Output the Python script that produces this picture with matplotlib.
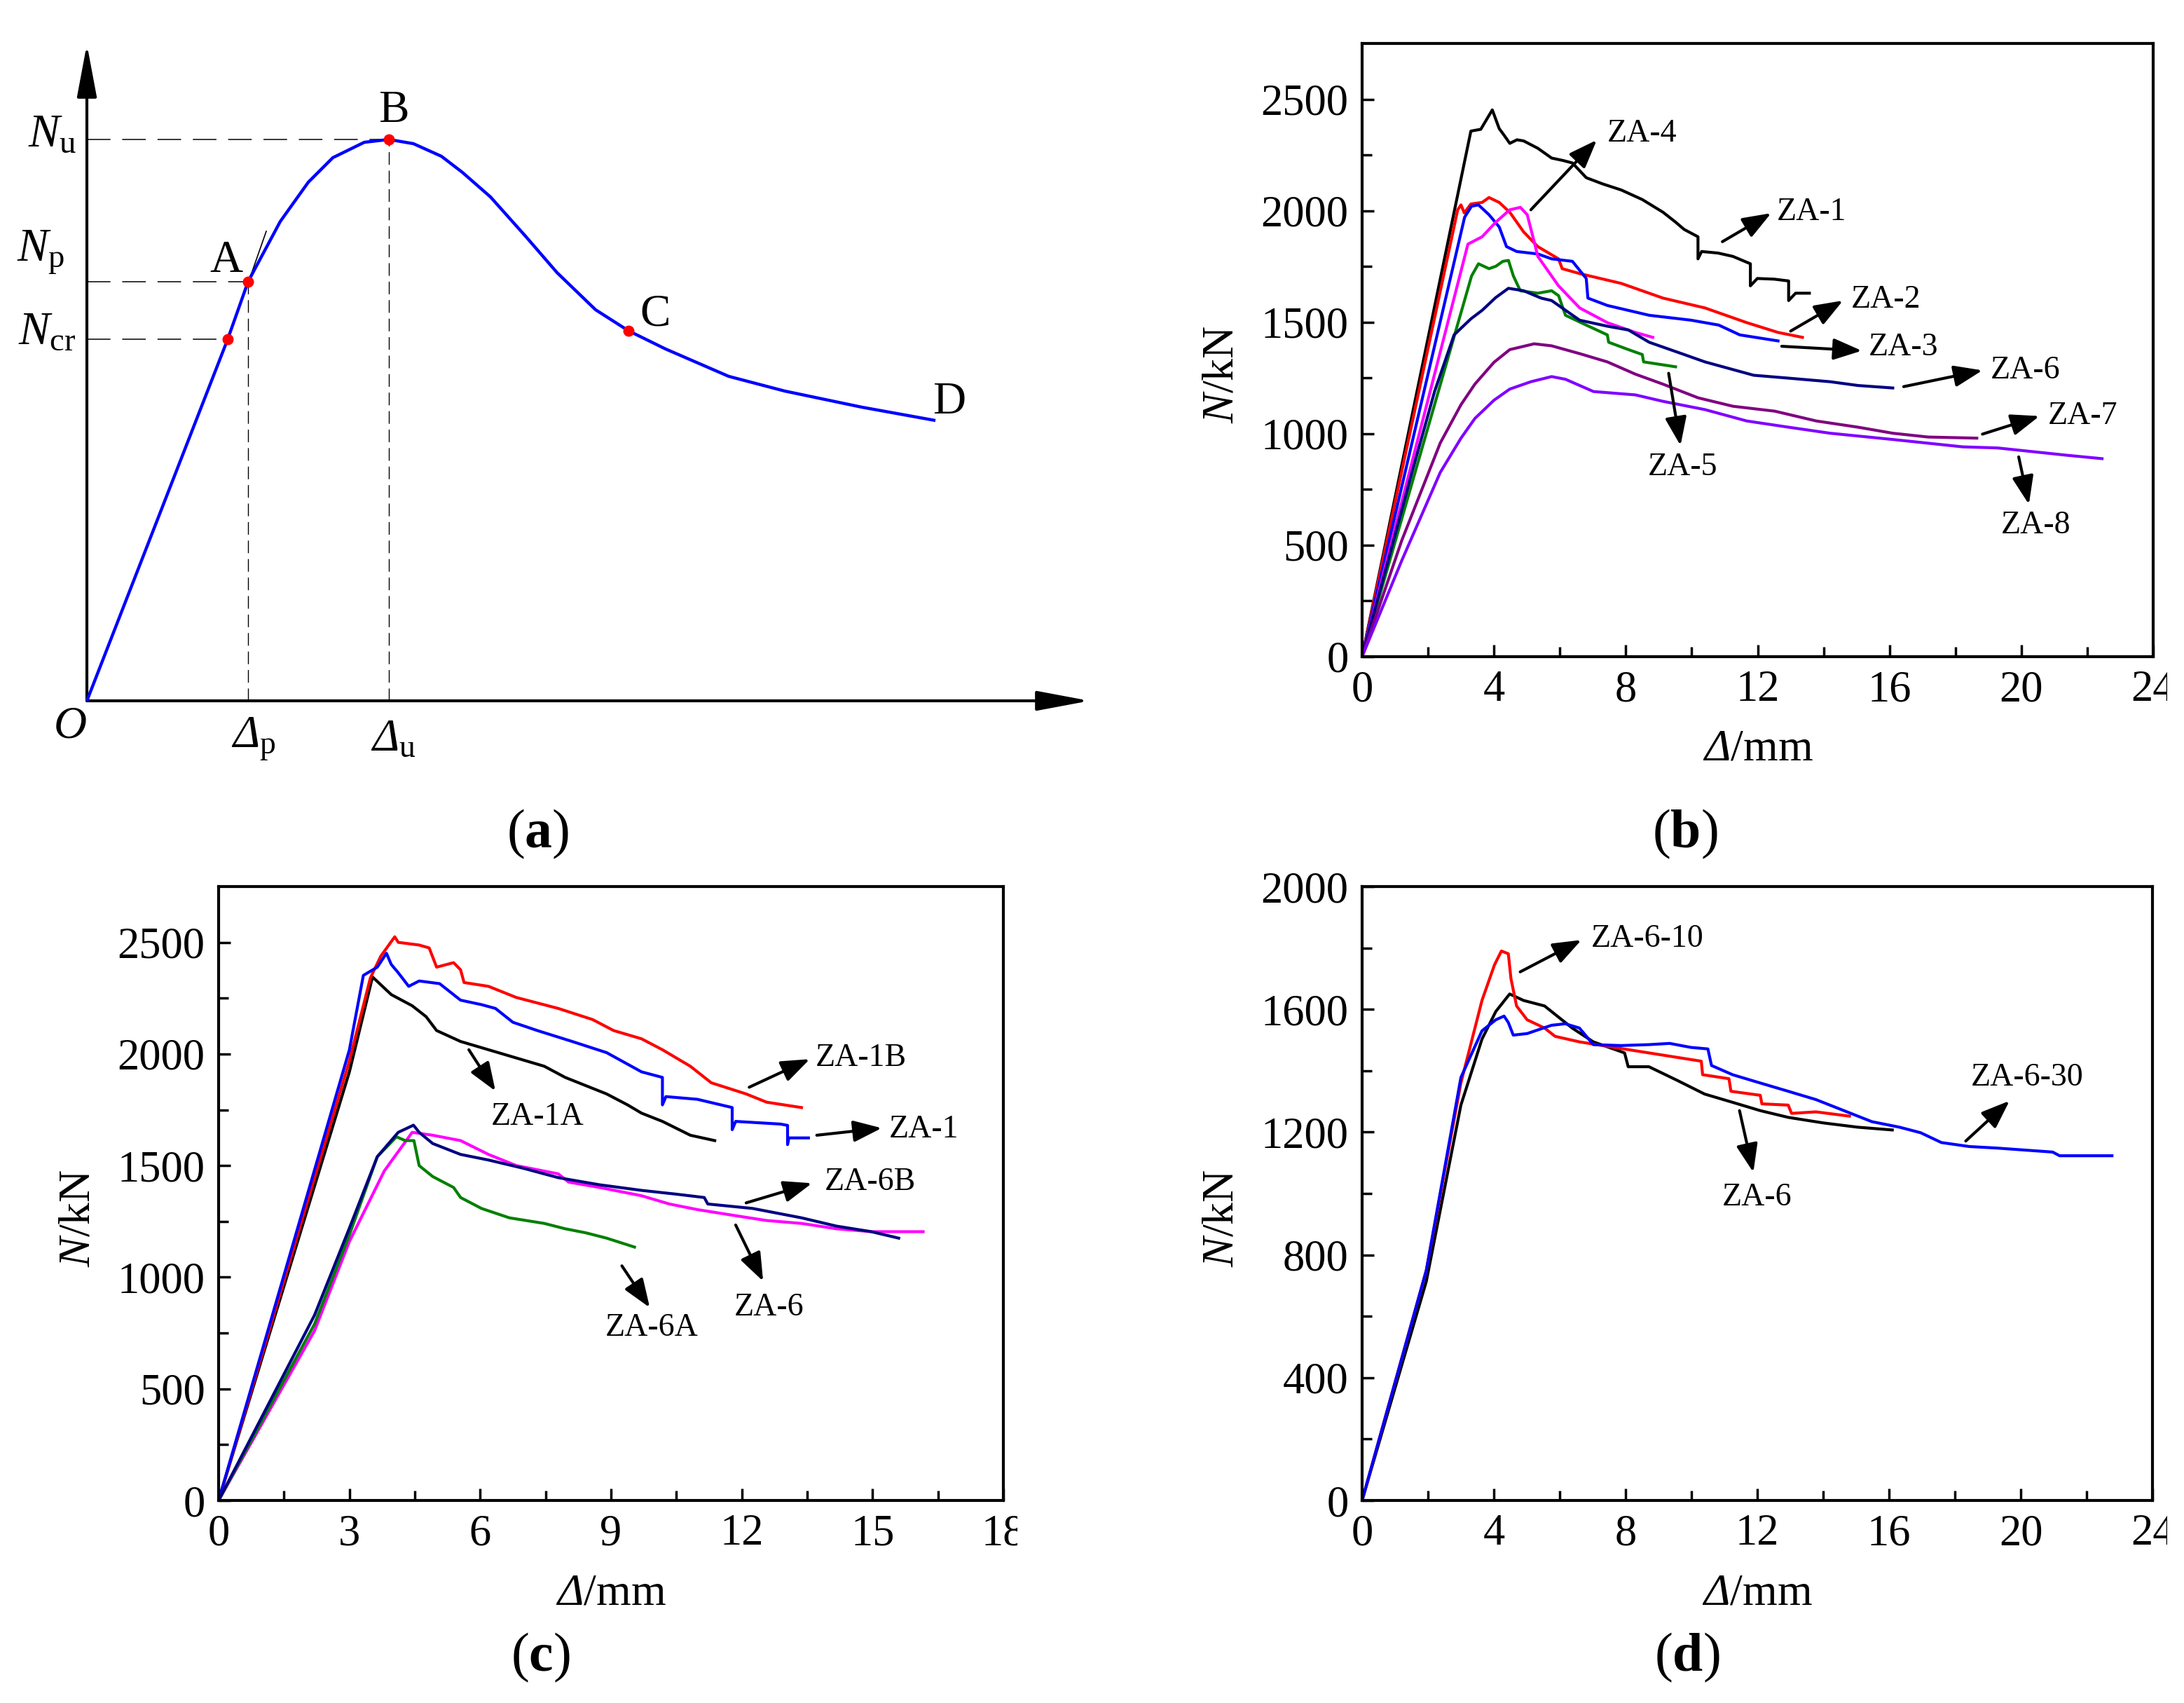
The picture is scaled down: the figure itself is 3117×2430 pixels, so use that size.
import numpy as np
import matplotlib
matplotlib.use('Agg')
import matplotlib.pyplot as plt
from matplotlib.ticker import FixedLocator
from matplotlib.transforms import Bbox, TransformedBbox

plt.rcParams['font.family'] = 'serif'
plt.rcParams['font.serif'] = ['Liberation Serif', 'DejaVu Serif']
plt.rcParams['mathtext.fontset'] = 'custom'
plt.rcParams['mathtext.rm'] = 'Liberation Serif'
plt.rcParams['mathtext.it'] = 'Liberation Serif:italic'
plt.rcParams['mathtext.sf'] = 'Liberation Serif:italic'
plt.rcParams['mathtext.bf'] = 'Liberation Serif:bold'

W, H = 3117, 2430

# ---------------- (a) schematic curve ----------------
sch_x = [0, 2.01, 2.30, 2.76, 3.16, 3.51, 3.96, 4.31, 4.66, 5.06, 5.36, 5.76, 6.26, 6.71, 7.26, 7.73,
         8.26, 9.16, 9.96, 11.06, 12.11]
sch_y = [0, 5.16, 5.98, 6.84, 7.40, 7.75, 7.97, 8.01, 7.95, 7.77, 7.54, 7.19, 6.63, 6.11, 5.58, 5.28,
         5.02, 4.63, 4.42, 4.19, 4.00]
key_names = ['Ncr', 'A', 'B', 'C']
key_x = [2.01, 2.30, 4.31, 7.73]
key_y = [5.16, 5.98, 8.01, 5.28]

# ---------------- (b) ----------------
b_za1_x = [0, 3.3, 3.6, 3.95, 4.16, 4.3, 4.48, 4.7, 4.9, 5.33, 5.75, 6.1, 6.38, 6.8, 7.3, 7.86,
           8.5, 9.13, 9.5, 9.77, 10.19, 10.19, 10.3, 10.8, 11.25, 11.78, 11.78, 11.99, 12.5, 12.94, 12.94,
           13.15, 13.57]
b_za1_y = [0, 2357, 2365, 2452, 2368, 2340, 2302, 2318, 2313, 2280, 2236, 2225, 2214, 2148,
           2120, 2093, 2050, 1993, 1950, 1916, 1883, 1784, 1817, 1810, 1795, 1762, 1663, 1696, 1693, 1685,
           1597, 1630, 1630]
b_za2_x = [0, 2.9, 3.0, 3.1, 3.3, 3.64, 3.85, 4.16, 4.48, 4.9, 5.33, 5.96, 6.07, 6.6, 7.86, 9.13, 10.4,
           11.67, 12.62, 13.36]
b_za2_y = [0, 2004, 2026, 1990, 2030, 2037, 2059, 2037, 1993, 1905, 1839, 1784, 1740, 1718, 1674, 1608,
           1564, 1498, 1454, 1432]
b_za3_x = [0, 3.11, 3.32, 3.53, 3.85, 4.16, 4.38, 4.69, 5.33, 5.75, 6.38, 6.8, 6.85, 7.44, 8.71, 9.98,
           10.82, 11.46, 12.62]
b_za3_y = [0, 1971, 2020, 2026, 1982, 1927, 1839, 1817, 1806, 1784, 1773, 1696, 1608, 1575, 1531, 1509,
           1487, 1443, 1416]
b_za4_x = [0, 3.21, 3.64, 4.06, 4.48, 4.8, 5.01, 5.22, 5.33, 5.96, 6.6, 7.44, 8.29, 8.82]
b_za4_y = [0, 1850, 1883, 1949, 2004, 2015, 1982, 1861, 1795, 1663, 1564, 1498, 1454, 1432]
b_za5_x = [0, 3.32, 3.53, 3.85, 4.06, 4.27, 4.44, 4.59, 4.8, 5.33, 5.75, 5.96, 6.17, 6.8, 7.44, 7.48,
           8.08, 8.5, 8.54, 9.51]
b_za5_y = [0, 1707, 1762, 1740, 1751, 1773, 1777, 1707, 1641, 1630, 1641, 1619, 1531, 1487, 1443, 1410,
           1377, 1355, 1322, 1300]
b_za6_x = [0, 1.5, 2.2, 2.79, 3.3, 3.64, 4.05, 4.44, 4.9, 5.43, 5.75, 6.6, 7.44, 8.08, 8.71, 9.77, 10.4,
           11.88, 12.94, 14.2, 15.05, 16.1]
b_za6_y = [0, 820, 1190, 1443, 1515, 1553, 1610, 1652, 1641, 1608, 1597, 1509, 1482, 1465, 1410, 1355,
           1322, 1262, 1249, 1233, 1216, 1205]
b_za7_x = [0, 1.2, 2.37, 3.0, 3.42, 4.0, 4.48, 5.22, 5.75, 6.6, 7.44, 8.29, 9.13, 10.19, 11.25, 12.52,
           13.78, 15.05, 16.1, 17.17, 18.65]
b_za7_y = [0, 520, 958, 1130, 1222, 1320, 1377, 1403, 1394, 1359, 1322, 1267, 1222, 1161, 1123, 1101,
           1057, 1029, 1002, 985, 980]
b_za8_x = [0, 1.2, 2.37, 3.0, 3.42, 4.0, 4.48, 5.12, 5.75, 6.17, 7.02, 8.29, 9.13, 10.4, 11.67, 12.94,
           14.2, 16.1, 18.22, 19.28, 21.4, 22.45]
b_za8_y = [0, 430, 826, 980, 1068, 1150, 1200, 1233, 1256, 1244, 1189, 1174, 1145, 1108, 1057, 1029,
           1002, 974, 941, 936, 903, 888]

# ---------------- (c) ----------------
c_za1b_x = [0, 3.0, 3.48, 3.72, 4.04, 4.12, 4.6, 4.83, 5.0, 5.39, 5.55, 5.63, 6.19, 6.51, 6.83, 7.79,
            8.58, 9.06, 9.7, 10.18, 10.82, 11.3, 11.7, 12.1, 12.57, 13.37]
c_za1b_y = [0, 1969, 2340, 2438, 2525, 2500, 2488, 2475, 2389, 2409, 2377, 2320, 2303, 2278, 2253, 2204,
            2154, 2105, 2068, 2019, 1945, 1871, 1846, 1821, 1784, 1760]
c_za1_x = [0, 3.0, 3.32, 3.64, 3.85, 3.96, 4.12, 4.36, 4.6, 5.07, 5.55, 6.03, 6.35, 6.75, 7.31, 8.11,
           8.9, 9.7, 10.18, 10.18, 10.26, 10.98, 11.78, 11.78, 11.86, 12.89, 13.05, 13.05, 13.08, 13.53]
c_za1_y = [0, 2019, 2352, 2389, 2451, 2401, 2364, 2303, 2327, 2315, 2241, 2221, 2204, 2142, 2105, 2056,
           2006, 1920, 1895, 1772, 1809, 1797, 1760, 1661, 1698, 1686, 1680, 1594, 1624, 1624]
c_za1a_x = [0, 3.0, 3.53, 3.96, 4.44, 4.76, 5.0, 5.55, 6.19, 6.83, 7.47, 7.95, 8.9, 9.38, 9.7, 10.18,
            10.82, 11.38]
c_za1a_y = [0, 1920, 2345, 2266, 2216, 2167, 2105, 2056, 2019, 1982, 1945, 1895, 1821, 1772, 1735, 1698,
            1636, 1612]
c_za6_x = [0, 2.2, 3.0, 3.8, 4.44, 4.91, 5.55, 6.19, 6.83, 7.79, 8.03, 8.74, 9.7, 10.34, 10.98, 11.78,
           12.57, 13.37, 14.17, 14.97, 16.16]
c_za6_y = [0, 760, 1160, 1476, 1649, 1636, 1612, 1550, 1500, 1463, 1426, 1402, 1365, 1328, 1303, 1278,
           1254, 1241, 1217, 1204, 1204]
c_za6b_x = [0, 2.2, 3.0, 3.64, 4.12, 4.47, 4.6, 4.91, 5.55, 6.19, 6.99, 7.79, 8.74, 9.7, 10.5, 11.14,
            11.22, 12.25, 13.37, 14.17, 14.97, 15.6]
c_za6b_y = [0, 830, 1220, 1540, 1649, 1681, 1649, 1599, 1550, 1525, 1488, 1446, 1414, 1389, 1372, 1357,
            1328, 1308, 1266, 1229, 1204, 1175]
c_za6a_x = [0, 2.2, 3.0, 3.64, 4.08, 4.28, 4.48, 4.6, 4.91, 5.39, 5.55, 6.03, 6.67, 7.47, 7.95, 8.42,
            8.9, 9.54]
c_za6a_y = [0, 790, 1190, 1540, 1629, 1612, 1612, 1500, 1451, 1402, 1357, 1308, 1266, 1241, 1217, 1199,
            1175, 1135]

# ---------------- (d) ----------------
d_za610_x = [0, 1.95, 3.0, 3.64, 4.02, 4.23, 4.44, 4.52, 4.69, 5.01, 5.54, 5.86, 6.6, 7.65, 8.71, 9.77,
             10.3, 10.34, 11.14, 11.2, 12.09, 12.14, 12.94, 13.04, 13.78, 14.8]
d_za610_y = [0, 750, 1360, 1629, 1745, 1790, 1781, 1700, 1611, 1566, 1539, 1512, 1494, 1476, 1458, 1440,
             1431, 1387, 1374, 1333, 1320, 1292, 1288, 1261, 1266, 1252]
d_za6_x = [0, 1.95, 3.0, 3.64, 4.06, 4.48, 4.9, 5.54, 5.75, 6.38, 7.02, 7.97, 8.08, 8.71, 9.56, 10.4,
           11.25, 12.09, 12.94, 14.0, 15.05, 16.1]
d_za6_y = [0, 714, 1288, 1503, 1593, 1650, 1629, 1611, 1593, 1539, 1494, 1458, 1413, 1413, 1369, 1324,
           1297, 1270, 1248, 1230, 1216, 1207]
d_za630_x = [0, 1.95, 3.0, 3.64, 4.06, 4.31, 4.44, 4.59, 5.01, 5.75, 6.17, 6.6, 7.02, 7.86, 8.71, 9.34,
             9.98, 10.5, 10.61, 11.25, 12.09, 12.94, 13.78, 14.63, 15.48, 16.32, 16.96, 17.59, 18.44,
             19.28, 20.97, 21.18, 22.77]
d_za630_y = [0, 750, 1378, 1530, 1566, 1578, 1557, 1516, 1521, 1548, 1553, 1539, 1485, 1482, 1485, 1489,
             1476, 1471, 1417, 1387, 1360, 1333, 1306, 1270, 1234, 1216, 1198, 1166, 1153, 1148, 1135,
             1123, 1123]

# label, tail (x, y), head (x, y), text (x, y), ha
b_notes = [('ZA-4', (5.12, 2004), (7.12, 2317), (7.44, 2346), 'left'),
           ('ZA-1', (10.93, 1861), (12.41, 1989), (12.58, 1993), 'left'),
           ('ZA-2', (13.0, 1460), (14.59, 1597), (14.84, 1601), 'left'),
           ('ZA-3', (12.73, 1392), (15.16, 1372), (15.37, 1388), 'left'),
           ('ZA-6', (16.43, 1211), (18.82, 1284), (19.07, 1284), 'left'),
           ('ZA-7', (18.82, 998), (20.55, 1079), (20.8, 1079), 'left'),
           ('ZA-5', (9.30, 1271), (9.66, 947), (9.73, 848), 'center'),
           ('ZA-8', (19.92, 896), (20.23, 683), (20.44, 588), 'center')]
c_notes = [('ZA-1B', (12.17, 1851), (13.56, 1977), (13.69, 1982), 'left'),
           ('ZA-1', (13.72, 1636), (15.21, 1668), (15.37, 1661), 'left'),
           ('ZA-6B', (12.1, 1333), (13.61, 1421), (13.9, 1426), 'left'),
           ('ZA-1A', (5.74, 2019), (6.35, 1834), (7.31, 1718), 'center'),
           ('ZA-6', (11.86, 1234), (12.49, 982), (12.62, 864), 'center'),
           ('ZA-6A', (9.25, 1051), (9.89, 864), (9.94, 772), 'center')]
d_notes = [('ZA-6-10', (4.8, 1722), (6.66, 1826), (6.96, 1830), 'left'),
           ('ZA-6-30', (18.33, 1171), (19.66, 1302), (18.48, 1378), 'left'),
           ('ZA-6', (11.46, 1270), (11.88, 1069), (11.99, 987), 'center')]


def fig_rect(left, top, right, bottom):
    return [left / W, 1 - bottom / H, (right - left) / W, (bottom - top) / H]


def style_panel(ax, xmax, xmaj, ymax, ymaj, clip_x):
    ax.set_xlim(0, xmax)
    ax.set_ylim(0, ymax)
    ax.xaxis.set_major_locator(FixedLocator(np.arange(0, xmax + 0.01, xmaj)))
    ax.xaxis.set_minor_locator(FixedLocator(np.arange(xmaj / 2, xmax, xmaj)))
    ax.yaxis.set_major_locator(FixedLocator(np.arange(0, ymax + 1, ymaj)))
    ax.yaxis.set_minor_locator(FixedLocator(np.arange(ymaj / 2, ymax, ymaj)))
    ax.tick_params(which='both', direction='in', top=False, right=False, width=2.5, labelsize=45)
    ax.tick_params(which='major', length=12, pad=14)
    ax.tick_params(which='minor', length=10)
    for s in ax.spines.values():
        s.set_linewidth(3)
    ax.set_xlabel(r'$\mathsf{\Delta}$/mm', fontsize=46)
    ax.set_ylabel(r'$\mathit{N}$/kN', fontsize=46)
    ax.xaxis.label.set_va('center')
    ax.yaxis.label.set_va('center')
    bb = ax.get_position()
    ax.xaxis.set_label_coords(0.5, -133 / (bb.height * H))
    ax.yaxis.set_label_coords(-200 / (bb.width * W), 0.46)
    # the last x tick label is cut by the panel border in the original
    ticks = ax.xaxis.get_major_ticks()
    clip = TransformedBbox(Bbox.from_extents(0, 0, clip_x / W, 1), ax.figure.transFigure)
    ticks[-1].label1.set_clip_box(clip)
    ticks[-1].label1.set_clip_on(True)


def add_notes(ax, notes):
    for name, tail, head, pos, ha in notes:
        ax.annotate('', xy=head, xytext=tail,
                    arrowprops=dict(arrowstyle='-|>,head_length=0.45,head_width=0.17',
                                    mutation_scale=55, lw=3, color='black',
                                    shrinkA=0, shrinkB=0))
        ax.text(pos[0], pos[1], name, fontsize=33, ha=ha, va='center')


fig = plt.figure(figsize=(W / 100, H / 100), dpi=100)

# ---- (a) ----
axa = fig.add_axes(fig_rect(0, 0, 1560, 1120))
axa.set_xlim(-1.24, 14.36)
axa.set_ylim(-1.2, 10.0)
axa.axis('off')
ak = dict(arrowstyle='-|>,head_length=0.8,head_width=0.15', mutation_scale=58, lw=3,
          color='black', shrinkA=0, shrinkB=0)
axa.annotate('', xy=(14.31, 0), xytext=(0, 0), arrowprops=ak)
axa.annotate('', xy=(0, 9.37), xytext=(0, 0), arrowprops=ak)
axa.plot(sch_x, sch_y, color='#0000ff', lw=3.2, solid_capstyle='butt', zorder=3)
axa.plot([key_x[1] - 0.08, 2.56], [key_y[1] - 0.25, 6.70], color='black', lw=1.2, zorder=2)
dash = (0, (22, 11))
for i, name in enumerate(key_names[:3]):
    axa.plot([0, key_x[i]], [key_y[i], key_y[i]], color='black', lw=1.1, linestyle=dash)
for i in (1, 2):
    axa.plot([key_x[i], key_x[i]], [0, key_y[i]], color='black', lw=1.0, linestyle=(0, (13, 6)))
axa.scatter(key_x, key_y, s=110, color='#ff0000', zorder=4)
lab = dict(fontsize=47, ha='center', va='center')
axa.text(1.99, 6.28, 'A', **lab)
axa.text(4.38, 8.42, 'B', **lab)
axa.text(8.11, 5.51, 'C', **lab)
axa.text(12.31, 4.26, 'D', **lab)
axa.text(-0.24, -0.37, 'O', fontsize=47, ha='center', va='center', style='italic')
axa.text(-0.14, 8.08, r'$\mathit{N}_{\mathrm{u}}$', fontsize=48, ha='right', va='center')
axa.text(-0.32, 6.40, r'$\mathit{N}_{\mathrm{p}}$', fontsize=48, ha='right', va='center')
axa.text(-0.16, 5.26, r'$\mathit{N}_{\mathrm{cr}}$', fontsize=48, ha='right', va='center')
axa.text(2.38, -0.55, r'$\mathsf{\Delta}_{\mathrm{p}}$', fontsize=47, ha='center', va='center')
axa.text(4.38, -0.55, r'$\mathsf{\Delta}_{\mathrm{u}}$', fontsize=47, ha='center', va='center')

# ---- (b) ----
axb = fig.add_axes(fig_rect(1944, 62, 3073, 937))
b_series = [(b_za1_x, b_za1_y, '#000000'), (b_za2_x, b_za2_y, '#ff0000'),
            (b_za3_x, b_za3_y, '#0000ff'), (b_za4_x, b_za4_y, '#ff00ff'),
            (b_za5_x, b_za5_y, '#008000'), (b_za6_x, b_za6_y, '#000080'),
            (b_za7_x, b_za7_y, '#800080'), (b_za8_x, b_za8_y, '#8000ff')]
for xs, ys, col in b_series:
    axb.plot(xs, ys, color=col, lw=3)
style_panel(axb, 24, 4, 2750, 500, 3093)
add_notes(axb, b_notes)

# ---- (c) ----
axc = fig.add_axes(fig_rect(312, 1265, 1432, 2141))
c_series = [(c_za1a_x, c_za1a_y, '#000000'), (c_za1b_x, c_za1b_y, '#ff0000'),
            (c_za1_x, c_za1_y, '#0000ff'), (c_za6_x, c_za6_y, '#ff00ff'),
            (c_za6a_x, c_za6a_y, '#008000'), (c_za6b_x, c_za6b_y, '#000080')]
for xs, ys, col in c_series:
    axc.plot(xs, ys, color=col, lw=3)
style_panel(axc, 18, 3, 2750, 500, 1452)
add_notes(axc, c_notes)

# ---- (d) ----
axd = fig.add_axes(fig_rect(1944, 1265, 3072, 2141))
d_series = [(d_za6_x, d_za6_y, '#000000'), (d_za610_x, d_za610_y, '#ff0000'),
            (d_za630_x, d_za630_y, '#0000ff')]
for xs, ys, col in d_series:
    axd.plot(xs, ys, color=col, lw=3)
style_panel(axd, 24, 4, 2000, 400, 3093)
add_notes(axd, d_notes)

# captions
for label, cx, cy in [('a', 768, 1190), ('b', 2405, 1190), ('c', 771, 2365), ('d', 2408, 2365)]:
    fig.text(cx / W, 1 - cy / H, '($\\mathbf{%s}$)' % label, fontsize=56, ha='center', va='center')

fig.savefig('out.png', dpi=100)
